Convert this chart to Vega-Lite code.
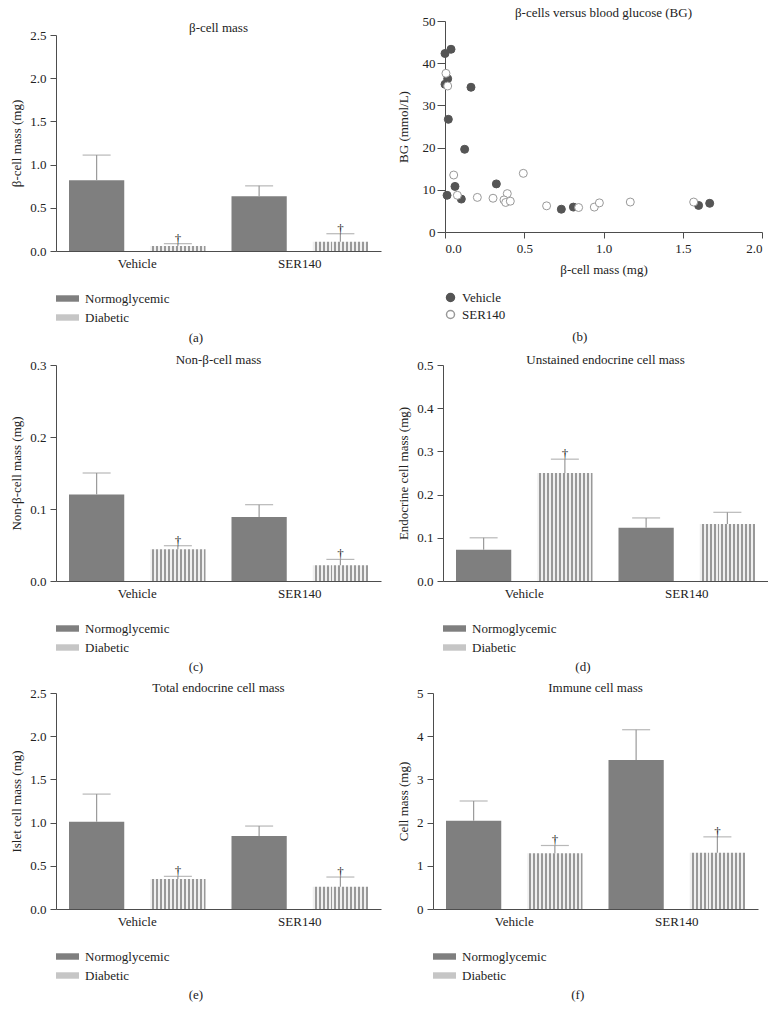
{
  "$schema": "https://vega.github.io/schema/vega-lite/v6.json",
  "padding": {"left": 10, "top": 7, "right": 0, "bottom": 0},
  "resolve": {"scale": {"fill": "independent", "stroke": "independent"}, "legend": {"fill": "independent", "stroke": "independent"}},
  "config": {
    "font": "Liberation Serif",
    "view": {"stroke": null},
    "axis": {"grid": false, "domainColor": "#4d4d4d", "tickColor": "#4d4d4d", "labelColor": "#222222", "titleColor": "#222222", "labelFont": "Liberation Serif", "titleFont": "Liberation Serif", "labelFontSize": 13, "titleFontSize": 13, "titleFontWeight": "normal", "tickSize": 6, "labelPadding": 4, "titlePadding": 6},
    "legend": {"labelFont": "Liberation Serif", "labelFontSize": 13, "labelColor": "#222222"},
    "title": {"font": "Liberation Serif", "fontSize": 13, "fontWeight": "normal", "color": "#222222"}
  },
  "datasets": {
    "a": [
      {"treatment": "Vehicle", "group": "Normoglycemic", "mean": 0.82, "upper": 1.11, "note": ""},
      {"treatment": "Vehicle", "group": "Diabetic", "mean": 0.058, "upper": 0.085, "note": "†"},
      {"treatment": "SER140", "group": "Normoglycemic", "mean": 0.635, "upper": 0.754, "note": ""},
      {"treatment": "SER140", "group": "Diabetic", "mean": 0.108, "upper": 0.2, "note": "†"}
    ],
    "c": [
      {"treatment": "Vehicle", "group": "Normoglycemic", "mean": 0.12, "upper": 0.15, "note": ""},
      {"treatment": "Vehicle", "group": "Diabetic", "mean": 0.044, "upper": 0.049, "note": "†"},
      {"treatment": "SER140", "group": "Normoglycemic", "mean": 0.089, "upper": 0.106, "note": ""},
      {"treatment": "SER140", "group": "Diabetic", "mean": 0.022, "upper": 0.03, "note": "†"}
    ],
    "d": [
      {"treatment": "Vehicle", "group": "Normoglycemic", "mean": 0.0725, "upper": 0.1, "note": ""},
      {"treatment": "Vehicle", "group": "Diabetic", "mean": 0.25, "upper": 0.282, "note": "†"},
      {"treatment": "SER140", "group": "Normoglycemic", "mean": 0.123, "upper": 0.146, "note": ""},
      {"treatment": "SER140", "group": "Diabetic", "mean": 0.132, "upper": 0.159, "note": ""}
    ],
    "e": [
      {"treatment": "Vehicle", "group": "Normoglycemic", "mean": 1.01, "upper": 1.33, "note": ""},
      {"treatment": "Vehicle", "group": "Diabetic", "mean": 0.347, "upper": 0.378, "note": "†"},
      {"treatment": "SER140", "group": "Normoglycemic", "mean": 0.845, "upper": 0.96, "note": ""},
      {"treatment": "SER140", "group": "Diabetic", "mean": 0.258, "upper": 0.37, "note": "†"}
    ],
    "f": [
      {"treatment": "Vehicle", "group": "Normoglycemic", "mean": 2.04, "upper": 2.5, "note": ""},
      {"treatment": "Vehicle", "group": "Diabetic", "mean": 1.29, "upper": 1.47, "note": "†"},
      {"treatment": "SER140", "group": "Normoglycemic", "mean": 3.45, "upper": 4.15, "note": ""},
      {"treatment": "SER140", "group": "Diabetic", "mean": 1.3, "upper": 1.67, "note": "†"}
    ],
    "b": [
      {"treatment": "Vehicle", "mass": 0.0, "bg": 42.3},
      {"treatment": "Vehicle", "mass": 0.038, "bg": 43.3},
      {"treatment": "Vehicle", "mass": 0.017, "bg": 36.3},
      {"treatment": "Vehicle", "mass": 0.0, "bg": 35.0},
      {"treatment": "Vehicle", "mass": 0.164, "bg": 34.3},
      {"treatment": "Vehicle", "mass": 0.021, "bg": 26.7},
      {"treatment": "Vehicle", "mass": 0.124, "bg": 19.6},
      {"treatment": "Vehicle", "mass": 0.324, "bg": 11.4},
      {"treatment": "Vehicle", "mass": 0.063, "bg": 10.8},
      {"treatment": "Vehicle", "mass": 0.013, "bg": 8.7},
      {"treatment": "Vehicle", "mass": 0.103, "bg": 7.8},
      {"treatment": "Vehicle", "mass": 0.734, "bg": 5.4},
      {"treatment": "Vehicle", "mass": 0.81, "bg": 5.9},
      {"treatment": "Vehicle", "mass": 1.6, "bg": 6.3},
      {"treatment": "Vehicle", "mass": 1.67, "bg": 6.8},
      {"treatment": "SER140", "mass": 0.006, "bg": 37.6},
      {"treatment": "SER140", "mass": 0.017, "bg": 34.6},
      {"treatment": "SER140", "mass": 0.055, "bg": 13.5},
      {"treatment": "SER140", "mass": 0.078, "bg": 8.7},
      {"treatment": "SER140", "mass": 0.204, "bg": 8.2},
      {"treatment": "SER140", "mass": 0.303, "bg": 8.0},
      {"treatment": "SER140", "mass": 0.393, "bg": 9.1},
      {"treatment": "SER140", "mass": 0.372, "bg": 7.6},
      {"treatment": "SER140", "mass": 0.383, "bg": 7.0},
      {"treatment": "SER140", "mass": 0.412, "bg": 7.3},
      {"treatment": "SER140", "mass": 0.494, "bg": 13.9},
      {"treatment": "SER140", "mass": 0.641, "bg": 6.2},
      {"treatment": "SER140", "mass": 0.843, "bg": 5.8},
      {"treatment": "SER140", "mass": 0.942, "bg": 5.9},
      {"treatment": "SER140", "mass": 0.974, "bg": 6.9},
      {"treatment": "SER140", "mass": 1.169, "bg": 7.1},
      {"treatment": "SER140", "mass": 1.569, "bg": 7.1}
    ]
  },
  "vconcat": [
    {
      "resolve": {"scale": {"fill": "independent", "stroke": "independent"}, "legend": {"fill": "independent", "stroke": "independent"}},
      "hconcat": [
        {
          "resolve": {"scale": {"fill": "independent", "stroke": "independent"}, "legend": {"fill": "independent", "stroke": "independent"}},
          "vconcat": [
            {"width": 10, "height": 1, "data": {"values": []}, "mark": "rect", "encoding": {}},
            {
              "width": 325, "height": 216,
              "data": {"name": "a"},
              "title": {"text": "(a)", "orient": "bottom", "anchor": "middle", "frame": "bounds", "offset": 7},
              "layer": [
                {"mark": {"type": "bar"},
                 "encoding": {
                   "x": {"field": "treatment", "type": "nominal", "sort": ["Vehicle", "SER140"], "scale": {"paddingInner": 0, "paddingOuter": 0}, "title": null, "axis": {"labelAngle": 0, "ticks": false, "labelPadding": 6}},
                   "xOffset": {"field": "group", "type": "nominal", "sort": ["Normoglycemic", "Diabetic"], "scale": {"paddingInner": 0.32, "paddingOuter": 0.16}},
                   "y": {"field": "mean", "type": "quantitative", "scale": {"domain": [0, 2.5], "nice": false}, "title": "β-cell mass (mg)", "axis": {"values": [0, 0.5, 1, 1.5, 2, 2.5], "format": ".1f"}},
                   "fill": {"field": "group", "type": "nominal", "sort": ["Normoglycemic", "Diabetic"], "scale": {"domain": ["Normoglycemic", "Diabetic"], "range": ["#7f7f7f", "#c6c6c6"]},
                     "condition": {"test": "datum.group === 'Diabetic'", "value": {"gradient": "linear", "x1": 0, "y1": 0, "x2": 1, "y2": 0, "stops": [
      {"offset": 0, "color": "#f0f0f0"}, {"offset": 0.0357, "color": "#f0f0f0"}, {"offset": 0.0357, "color": "#999999"}, {"offset": 0.0714, "color": "#999999"},
      {"offset": 0.0714, "color": "#f0f0f0"}, {"offset": 0.1071, "color": "#f0f0f0"}, {"offset": 0.1071, "color": "#999999"}, {"offset": 0.1429, "color": "#999999"},
      {"offset": 0.1429, "color": "#f0f0f0"}, {"offset": 0.1786, "color": "#f0f0f0"}, {"offset": 0.1786, "color": "#999999"}, {"offset": 0.2143, "color": "#999999"},
      {"offset": 0.2143, "color": "#f0f0f0"}, {"offset": 0.25, "color": "#f0f0f0"}, {"offset": 0.25, "color": "#999999"}, {"offset": 0.2857, "color": "#999999"},
      {"offset": 0.2857, "color": "#f0f0f0"}, {"offset": 0.3214, "color": "#f0f0f0"}, {"offset": 0.3214, "color": "#999999"}, {"offset": 0.3571, "color": "#999999"},
      {"offset": 0.3571, "color": "#f0f0f0"}, {"offset": 0.3929, "color": "#f0f0f0"}, {"offset": 0.3929, "color": "#999999"}, {"offset": 0.4286, "color": "#999999"},
      {"offset": 0.4286, "color": "#f0f0f0"}, {"offset": 0.4643, "color": "#f0f0f0"}, {"offset": 0.4643, "color": "#999999"}, {"offset": 0.5, "color": "#999999"},
      {"offset": 0.5, "color": "#f0f0f0"}, {"offset": 0.5357, "color": "#f0f0f0"}, {"offset": 0.5357, "color": "#999999"}, {"offset": 0.5714, "color": "#999999"},
      {"offset": 0.5714, "color": "#f0f0f0"}, {"offset": 0.6071, "color": "#f0f0f0"}, {"offset": 0.6071, "color": "#999999"}, {"offset": 0.6429, "color": "#999999"},
      {"offset": 0.6429, "color": "#f0f0f0"}, {"offset": 0.6786, "color": "#f0f0f0"}, {"offset": 0.6786, "color": "#999999"}, {"offset": 0.7143, "color": "#999999"},
      {"offset": 0.7143, "color": "#f0f0f0"}, {"offset": 0.75, "color": "#f0f0f0"}, {"offset": 0.75, "color": "#999999"}, {"offset": 0.7857, "color": "#999999"},
      {"offset": 0.7857, "color": "#f0f0f0"}, {"offset": 0.8214, "color": "#f0f0f0"}, {"offset": 0.8214, "color": "#999999"}, {"offset": 0.8571, "color": "#999999"},
      {"offset": 0.8571, "color": "#f0f0f0"}, {"offset": 0.8929, "color": "#f0f0f0"}, {"offset": 0.8929, "color": "#999999"}, {"offset": 0.9286, "color": "#999999"},
      {"offset": 0.9286, "color": "#f0f0f0"}, {"offset": 0.9643, "color": "#f0f0f0"}, {"offset": 0.9643, "color": "#999999"}, {"offset": 1, "color": "#999999"}]}},
                     "legend": {"title": null, "orient": "none", "legendX": 0, "legendY": 252, "direction": "vertical", "symbolType": "M-1,-0.28H1V0.28H-1Z", "symbolSize": 529, "symbolStrokeWidth": 0, "symbolOpacity": 1, "labelOffset": 6, "rowPadding": -5}}
                 }},
                {"mark": {"type": "rule", "color": "#9a9a9a", "strokeWidth": 1.2},
                 "encoding": {
                   "x": {"field": "treatment", "type": "nominal", "sort": ["Vehicle", "SER140"], "title": null},
                   "xOffset": {"field": "group", "type": "nominal", "sort": ["Normoglycemic", "Diabetic"]},
                   "y": {"field": "mean", "type": "quantitative", "title": "β-cell mass (mg)"},
                   "y2": {"field": "upper"}
                 }},
                {"mark": {"type": "tick", "color": "#9a9a9a", "thickness": 1.2, "size": 28},
                 "encoding": {
                   "x": {"field": "treatment", "type": "nominal", "sort": ["Vehicle", "SER140"], "title": null},
                   "xOffset": {"field": "group", "type": "nominal", "sort": ["Normoglycemic", "Diabetic"]},
                   "y": {"field": "upper", "type": "quantitative", "title": "β-cell mass (mg)"}
                 }},
                {"mark": {"type": "text", "baseline": "bottom", "dy": 2, "fontSize": 13, "color": "#222222"},
                 "encoding": {
                   "x": {"field": "treatment", "type": "nominal", "sort": ["Vehicle", "SER140"], "title": null},
                   "xOffset": {"field": "group", "type": "nominal", "sort": ["Normoglycemic", "Diabetic"]},
                   "y": {"field": "upper", "type": "quantitative", "title": "β-cell mass (mg)"},
                   "text": {"field": "note"}
                 }},
                {"data": {"values": [{"label": "β-cell mass"}]},
                 "mark": {"type": "text", "baseline": "bottom", "fontSize": 13, "color": "#222222"},
                 "encoding": {
                   "x": {"datum": "Vehicle", "type": "nominal", "bandPosition": 1, "title": null},
                   "y": {"datum": 2.5, "type": "quantitative", "title": "β-cell mass (mg)"},
                   "text": {"field": "label"}
                 }}
              ]
            }
          ],
          "spacing": 0
        },
        {
          "width": 317, "height": 211,
          "data": {"name": "b"},
          "title": {"text": "(b)", "orient": "bottom", "anchor": "middle", "frame": "bounds", "offset": 9},
          "layer": [
            {"mark": {"type": "point", "shape": "circle", "size": 64, "strokeWidth": 1, "opacity": 1, "filled": false},
             "encoding": {
               "x": {"field": "mass", "type": "quantitative", "scale": {"domain": [0, 2], "nice": false}, "title": "β-cell mass (mg)", "axis": {"values": [0, 0.5, 1, 1.5, 2], "format": ".1f", "titlePadding": 8}},
               "y": {"field": "bg", "type": "quantitative", "scale": {"domain": [0, 50], "nice": false}, "title": "BG (mmol/L)", "axis": {"values": [0, 10, 20, 30, 40, 50], "tickSize": 8, "labelPadding": 2, "titlePadding": 12}},
               "fill": {"field": "treatment", "type": "nominal", "scale": {"domain": ["Vehicle", "SER140"], "range": ["#555555", "#ffffff"]}, "legend": {"title": null, "orient": "none", "legendX": -1, "legendY": 270, "direction": "vertical", "symbolType": "circle", "symbolSize": 64, "labelOffset": 5, "rowPadding": 2}},
               "stroke": {"field": "treatment", "type": "nominal", "scale": {"domain": ["Vehicle", "SER140"], "range": ["#555555", "#999999"]}, "legend": {"title": null, "orient": "none", "legendX": -1, "legendY": 270, "direction": "vertical", "symbolType": "circle", "symbolSize": 64, "labelOffset": 5, "rowPadding": 2}}
             }},
            {"data": {"values": [{"label": "β-cells versus blood glucose (BG)"}]},
             "mark": {"type": "text", "baseline": "bottom", "dy": -1, "fontSize": 13, "color": "#222222"},
             "encoding": {
               "x": {"datum": 1, "type": "quantitative", "title": "β-cell mass (mg)"},
               "y": {"datum": 50, "type": "quantitative", "title": "BG (mmol/L)"},
               "text": {"field": "label"}
             }}
          ]
        }
      ],
      "spacing": 16
    },
    {
      "resolve": {"scale": {"fill": "independent", "stroke": "independent"}, "legend": {"fill": "independent", "stroke": "independent"}},
      "vconcat": [
        {
          "resolve": {"scale": {"fill": "independent", "stroke": "independent"}, "legend": {"fill": "independent", "stroke": "independent"}},
          "hconcat": [
            {
              "width": 325, "height": 216,
              "data": {"name": "c"},
              "title": {"text": "(c)", "orient": "bottom", "anchor": "middle", "frame": "bounds", "offset": 6},
              "layer": [
                {"mark": {"type": "bar"},
                 "encoding": {
                   "x": {"field": "treatment", "type": "nominal", "sort": ["Vehicle", "SER140"], "scale": {"paddingInner": 0, "paddingOuter": 0}, "title": null, "axis": {"labelAngle": 0, "ticks": false, "labelPadding": 6}},
                   "xOffset": {"field": "group", "type": "nominal", "sort": ["Normoglycemic", "Diabetic"], "scale": {"paddingInner": 0.32, "paddingOuter": 0.16}},
                   "y": {"field": "mean", "type": "quantitative", "scale": {"domain": [0, 0.3], "nice": false}, "title": "Non-β-cell mass (mg)", "axis": {"values": [0, 0.1, 0.2, 0.3], "format": ".1f"}},
                   "fill": {"field": "group", "type": "nominal", "sort": ["Normoglycemic", "Diabetic"], "scale": {"domain": ["Normoglycemic", "Diabetic"], "range": ["#7f7f7f", "#c6c6c6"]},
                     "condition": {"test": "datum.group === 'Diabetic'", "value": {"gradient": "linear", "x1": 0, "y1": 0, "x2": 1, "y2": 0, "stops": [
      {"offset": 0, "color": "#f0f0f0"}, {"offset": 0.0357, "color": "#f0f0f0"}, {"offset": 0.0357, "color": "#999999"}, {"offset": 0.0714, "color": "#999999"},
      {"offset": 0.0714, "color": "#f0f0f0"}, {"offset": 0.1071, "color": "#f0f0f0"}, {"offset": 0.1071, "color": "#999999"}, {"offset": 0.1429, "color": "#999999"},
      {"offset": 0.1429, "color": "#f0f0f0"}, {"offset": 0.1786, "color": "#f0f0f0"}, {"offset": 0.1786, "color": "#999999"}, {"offset": 0.2143, "color": "#999999"},
      {"offset": 0.2143, "color": "#f0f0f0"}, {"offset": 0.25, "color": "#f0f0f0"}, {"offset": 0.25, "color": "#999999"}, {"offset": 0.2857, "color": "#999999"},
      {"offset": 0.2857, "color": "#f0f0f0"}, {"offset": 0.3214, "color": "#f0f0f0"}, {"offset": 0.3214, "color": "#999999"}, {"offset": 0.3571, "color": "#999999"},
      {"offset": 0.3571, "color": "#f0f0f0"}, {"offset": 0.3929, "color": "#f0f0f0"}, {"offset": 0.3929, "color": "#999999"}, {"offset": 0.4286, "color": "#999999"},
      {"offset": 0.4286, "color": "#f0f0f0"}, {"offset": 0.4643, "color": "#f0f0f0"}, {"offset": 0.4643, "color": "#999999"}, {"offset": 0.5, "color": "#999999"},
      {"offset": 0.5, "color": "#f0f0f0"}, {"offset": 0.5357, "color": "#f0f0f0"}, {"offset": 0.5357, "color": "#999999"}, {"offset": 0.5714, "color": "#999999"},
      {"offset": 0.5714, "color": "#f0f0f0"}, {"offset": 0.6071, "color": "#f0f0f0"}, {"offset": 0.6071, "color": "#999999"}, {"offset": 0.6429, "color": "#999999"},
      {"offset": 0.6429, "color": "#f0f0f0"}, {"offset": 0.6786, "color": "#f0f0f0"}, {"offset": 0.6786, "color": "#999999"}, {"offset": 0.7143, "color": "#999999"},
      {"offset": 0.7143, "color": "#f0f0f0"}, {"offset": 0.75, "color": "#f0f0f0"}, {"offset": 0.75, "color": "#999999"}, {"offset": 0.7857, "color": "#999999"},
      {"offset": 0.7857, "color": "#f0f0f0"}, {"offset": 0.8214, "color": "#f0f0f0"}, {"offset": 0.8214, "color": "#999999"}, {"offset": 0.8571, "color": "#999999"},
      {"offset": 0.8571, "color": "#f0f0f0"}, {"offset": 0.8929, "color": "#f0f0f0"}, {"offset": 0.8929, "color": "#999999"}, {"offset": 0.9286, "color": "#999999"},
      {"offset": 0.9286, "color": "#f0f0f0"}, {"offset": 0.9643, "color": "#f0f0f0"}, {"offset": 0.9643, "color": "#999999"}, {"offset": 1, "color": "#999999"}]}},
                     "legend": {"title": null, "orient": "none", "legendX": 0, "legendY": 252, "direction": "vertical", "symbolType": "M-1,-0.28H1V0.28H-1Z", "symbolSize": 529, "symbolStrokeWidth": 0, "symbolOpacity": 1, "labelOffset": 6, "rowPadding": -5}}
                 }},
                {"mark": {"type": "rule", "color": "#9a9a9a", "strokeWidth": 1.2},
                 "encoding": {
                   "x": {"field": "treatment", "type": "nominal", "sort": ["Vehicle", "SER140"], "title": null},
                   "xOffset": {"field": "group", "type": "nominal", "sort": ["Normoglycemic", "Diabetic"]},
                   "y": {"field": "mean", "type": "quantitative", "title": "Non-β-cell mass (mg)"},
                   "y2": {"field": "upper"}
                 }},
                {"mark": {"type": "tick", "color": "#9a9a9a", "thickness": 1.2, "size": 28},
                 "encoding": {
                   "x": {"field": "treatment", "type": "nominal", "sort": ["Vehicle", "SER140"], "title": null},
                   "xOffset": {"field": "group", "type": "nominal", "sort": ["Normoglycemic", "Diabetic"]},
                   "y": {"field": "upper", "type": "quantitative", "title": "Non-β-cell mass (mg)"}
                 }},
                {"mark": {"type": "text", "baseline": "bottom", "dy": 2, "fontSize": 13, "color": "#222222"},
                 "encoding": {
                   "x": {"field": "treatment", "type": "nominal", "sort": ["Vehicle", "SER140"], "title": null},
                   "xOffset": {"field": "group", "type": "nominal", "sort": ["Normoglycemic", "Diabetic"]},
                   "y": {"field": "upper", "type": "quantitative", "title": "Non-β-cell mass (mg)"},
                   "text": {"field": "note"}
                 }},
                {"data": {"values": [{"label": "Non-β-cell mass"}]},
                 "mark": {"type": "text", "baseline": "bottom", "dy": 2, "fontSize": 13, "color": "#222222"},
                 "encoding": {
                   "x": {"datum": "Vehicle", "type": "nominal", "bandPosition": 1, "title": null},
                   "y": {"datum": 0.3, "type": "quantitative", "title": "Non-β-cell mass (mg)"},
                   "text": {"field": "label"}
                 }}
              ]
            },
            {
              "width": 325, "height": 216,
              "data": {"name": "d"},
              "title": {"text": "(d)", "orient": "bottom", "anchor": "middle", "frame": "bounds", "offset": 6},
              "layer": [
                {"mark": {"type": "bar"},
                 "encoding": {
                   "x": {"field": "treatment", "type": "nominal", "sort": ["Vehicle", "SER140"], "scale": {"paddingInner": 0, "paddingOuter": 0}, "title": null, "axis": {"labelAngle": 0, "ticks": false, "labelPadding": 6}},
                   "xOffset": {"field": "group", "type": "nominal", "sort": ["Normoglycemic", "Diabetic"], "scale": {"paddingInner": 0.32, "paddingOuter": 0.16}},
                   "y": {"field": "mean", "type": "quantitative", "scale": {"domain": [0, 0.5], "nice": false}, "title": "Endocrine cell mass (mg)", "axis": {"values": [0, 0.1, 0.2, 0.3, 0.4, 0.5], "format": ".1f"}},
                   "fill": {"field": "group", "type": "nominal", "sort": ["Normoglycemic", "Diabetic"], "scale": {"domain": ["Normoglycemic", "Diabetic"], "range": ["#7f7f7f", "#c6c6c6"]},
                     "condition": {"test": "datum.group === 'Diabetic'", "value": {"gradient": "linear", "x1": 0, "y1": 0, "x2": 1, "y2": 0, "stops": [
      {"offset": 0, "color": "#f0f0f0"}, {"offset": 0.0357, "color": "#f0f0f0"}, {"offset": 0.0357, "color": "#999999"}, {"offset": 0.0714, "color": "#999999"},
      {"offset": 0.0714, "color": "#f0f0f0"}, {"offset": 0.1071, "color": "#f0f0f0"}, {"offset": 0.1071, "color": "#999999"}, {"offset": 0.1429, "color": "#999999"},
      {"offset": 0.1429, "color": "#f0f0f0"}, {"offset": 0.1786, "color": "#f0f0f0"}, {"offset": 0.1786, "color": "#999999"}, {"offset": 0.2143, "color": "#999999"},
      {"offset": 0.2143, "color": "#f0f0f0"}, {"offset": 0.25, "color": "#f0f0f0"}, {"offset": 0.25, "color": "#999999"}, {"offset": 0.2857, "color": "#999999"},
      {"offset": 0.2857, "color": "#f0f0f0"}, {"offset": 0.3214, "color": "#f0f0f0"}, {"offset": 0.3214, "color": "#999999"}, {"offset": 0.3571, "color": "#999999"},
      {"offset": 0.3571, "color": "#f0f0f0"}, {"offset": 0.3929, "color": "#f0f0f0"}, {"offset": 0.3929, "color": "#999999"}, {"offset": 0.4286, "color": "#999999"},
      {"offset": 0.4286, "color": "#f0f0f0"}, {"offset": 0.4643, "color": "#f0f0f0"}, {"offset": 0.4643, "color": "#999999"}, {"offset": 0.5, "color": "#999999"},
      {"offset": 0.5, "color": "#f0f0f0"}, {"offset": 0.5357, "color": "#f0f0f0"}, {"offset": 0.5357, "color": "#999999"}, {"offset": 0.5714, "color": "#999999"},
      {"offset": 0.5714, "color": "#f0f0f0"}, {"offset": 0.6071, "color": "#f0f0f0"}, {"offset": 0.6071, "color": "#999999"}, {"offset": 0.6429, "color": "#999999"},
      {"offset": 0.6429, "color": "#f0f0f0"}, {"offset": 0.6786, "color": "#f0f0f0"}, {"offset": 0.6786, "color": "#999999"}, {"offset": 0.7143, "color": "#999999"},
      {"offset": 0.7143, "color": "#f0f0f0"}, {"offset": 0.75, "color": "#f0f0f0"}, {"offset": 0.75, "color": "#999999"}, {"offset": 0.7857, "color": "#999999"},
      {"offset": 0.7857, "color": "#f0f0f0"}, {"offset": 0.8214, "color": "#f0f0f0"}, {"offset": 0.8214, "color": "#999999"}, {"offset": 0.8571, "color": "#999999"},
      {"offset": 0.8571, "color": "#f0f0f0"}, {"offset": 0.8929, "color": "#f0f0f0"}, {"offset": 0.8929, "color": "#999999"}, {"offset": 0.9286, "color": "#999999"},
      {"offset": 0.9286, "color": "#f0f0f0"}, {"offset": 0.9643, "color": "#f0f0f0"}, {"offset": 0.9643, "color": "#999999"}, {"offset": 1, "color": "#999999"}]}},
                     "legend": {"title": null, "orient": "none", "legendX": 0, "legendY": 252, "direction": "vertical", "symbolType": "M-1,-0.28H1V0.28H-1Z", "symbolSize": 529, "symbolStrokeWidth": 0, "symbolOpacity": 1, "labelOffset": 6, "rowPadding": -5}}
                 }},
                {"mark": {"type": "rule", "color": "#9a9a9a", "strokeWidth": 1.2},
                 "encoding": {
                   "x": {"field": "treatment", "type": "nominal", "sort": ["Vehicle", "SER140"], "title": null},
                   "xOffset": {"field": "group", "type": "nominal", "sort": ["Normoglycemic", "Diabetic"]},
                   "y": {"field": "mean", "type": "quantitative", "title": "Endocrine cell mass (mg)"},
                   "y2": {"field": "upper"}
                 }},
                {"mark": {"type": "tick", "color": "#9a9a9a", "thickness": 1.2, "size": 28},
                 "encoding": {
                   "x": {"field": "treatment", "type": "nominal", "sort": ["Vehicle", "SER140"], "title": null},
                   "xOffset": {"field": "group", "type": "nominal", "sort": ["Normoglycemic", "Diabetic"]},
                   "y": {"field": "upper", "type": "quantitative", "title": "Endocrine cell mass (mg)"}
                 }},
                {"mark": {"type": "text", "baseline": "bottom", "dy": 2, "fontSize": 13, "color": "#222222"},
                 "encoding": {
                   "x": {"field": "treatment", "type": "nominal", "sort": ["Vehicle", "SER140"], "title": null},
                   "xOffset": {"field": "group", "type": "nominal", "sort": ["Normoglycemic", "Diabetic"]},
                   "y": {"field": "upper", "type": "quantitative", "title": "Endocrine cell mass (mg)"},
                   "text": {"field": "note"}
                 }},
                {"data": {"values": [{"label": "Unstained endocrine cell mass"}]},
                 "mark": {"type": "text", "baseline": "bottom", "dy": 2, "fontSize": 13, "color": "#222222"},
                 "encoding": {
                   "x": {"datum": "Vehicle", "type": "nominal", "bandPosition": 1, "title": null},
                   "y": {"datum": 0.5, "type": "quantitative", "title": "Endocrine cell mass (mg)"},
                   "text": {"field": "label"}
                 }}
              ]
            }
          ],
          "spacing": 16
        },
        {
          "resolve": {"scale": {"fill": "independent", "stroke": "independent"}, "legend": {"fill": "independent", "stroke": "independent"}},
          "hconcat": [
            {
              "width": 325, "height": 216,
              "data": {"name": "e"},
              "title": {"text": "(e)", "orient": "bottom", "anchor": "middle", "frame": "bounds", "offset": 6},
              "layer": [
                {"mark": {"type": "bar"},
                 "encoding": {
                   "x": {"field": "treatment", "type": "nominal", "sort": ["Vehicle", "SER140"], "scale": {"paddingInner": 0, "paddingOuter": 0}, "title": null, "axis": {"labelAngle": 0, "ticks": false, "labelPadding": 6}},
                   "xOffset": {"field": "group", "type": "nominal", "sort": ["Normoglycemic", "Diabetic"], "scale": {"paddingInner": 0.32, "paddingOuter": 0.16}},
                   "y": {"field": "mean", "type": "quantitative", "scale": {"domain": [0, 2.5], "nice": false}, "title": "Islet cell mass (mg)", "axis": {"values": [0, 0.5, 1, 1.5, 2, 2.5], "format": ".1f"}},
                   "fill": {"field": "group", "type": "nominal", "sort": ["Normoglycemic", "Diabetic"], "scale": {"domain": ["Normoglycemic", "Diabetic"], "range": ["#7f7f7f", "#c6c6c6"]},
                     "condition": {"test": "datum.group === 'Diabetic'", "value": {"gradient": "linear", "x1": 0, "y1": 0, "x2": 1, "y2": 0, "stops": [
      {"offset": 0, "color": "#f0f0f0"}, {"offset": 0.0357, "color": "#f0f0f0"}, {"offset": 0.0357, "color": "#999999"}, {"offset": 0.0714, "color": "#999999"},
      {"offset": 0.0714, "color": "#f0f0f0"}, {"offset": 0.1071, "color": "#f0f0f0"}, {"offset": 0.1071, "color": "#999999"}, {"offset": 0.1429, "color": "#999999"},
      {"offset": 0.1429, "color": "#f0f0f0"}, {"offset": 0.1786, "color": "#f0f0f0"}, {"offset": 0.1786, "color": "#999999"}, {"offset": 0.2143, "color": "#999999"},
      {"offset": 0.2143, "color": "#f0f0f0"}, {"offset": 0.25, "color": "#f0f0f0"}, {"offset": 0.25, "color": "#999999"}, {"offset": 0.2857, "color": "#999999"},
      {"offset": 0.2857, "color": "#f0f0f0"}, {"offset": 0.3214, "color": "#f0f0f0"}, {"offset": 0.3214, "color": "#999999"}, {"offset": 0.3571, "color": "#999999"},
      {"offset": 0.3571, "color": "#f0f0f0"}, {"offset": 0.3929, "color": "#f0f0f0"}, {"offset": 0.3929, "color": "#999999"}, {"offset": 0.4286, "color": "#999999"},
      {"offset": 0.4286, "color": "#f0f0f0"}, {"offset": 0.4643, "color": "#f0f0f0"}, {"offset": 0.4643, "color": "#999999"}, {"offset": 0.5, "color": "#999999"},
      {"offset": 0.5, "color": "#f0f0f0"}, {"offset": 0.5357, "color": "#f0f0f0"}, {"offset": 0.5357, "color": "#999999"}, {"offset": 0.5714, "color": "#999999"},
      {"offset": 0.5714, "color": "#f0f0f0"}, {"offset": 0.6071, "color": "#f0f0f0"}, {"offset": 0.6071, "color": "#999999"}, {"offset": 0.6429, "color": "#999999"},
      {"offset": 0.6429, "color": "#f0f0f0"}, {"offset": 0.6786, "color": "#f0f0f0"}, {"offset": 0.6786, "color": "#999999"}, {"offset": 0.7143, "color": "#999999"},
      {"offset": 0.7143, "color": "#f0f0f0"}, {"offset": 0.75, "color": "#f0f0f0"}, {"offset": 0.75, "color": "#999999"}, {"offset": 0.7857, "color": "#999999"},
      {"offset": 0.7857, "color": "#f0f0f0"}, {"offset": 0.8214, "color": "#f0f0f0"}, {"offset": 0.8214, "color": "#999999"}, {"offset": 0.8571, "color": "#999999"},
      {"offset": 0.8571, "color": "#f0f0f0"}, {"offset": 0.8929, "color": "#f0f0f0"}, {"offset": 0.8929, "color": "#999999"}, {"offset": 0.9286, "color": "#999999"},
      {"offset": 0.9286, "color": "#f0f0f0"}, {"offset": 0.9643, "color": "#f0f0f0"}, {"offset": 0.9643, "color": "#999999"}, {"offset": 1, "color": "#999999"}]}},
                     "legend": {"title": null, "orient": "none", "legendX": 0, "legendY": 252, "direction": "vertical", "symbolType": "M-1,-0.28H1V0.28H-1Z", "symbolSize": 529, "symbolStrokeWidth": 0, "symbolOpacity": 1, "labelOffset": 6, "rowPadding": -5}}
                 }},
                {"mark": {"type": "rule", "color": "#9a9a9a", "strokeWidth": 1.2},
                 "encoding": {
                   "x": {"field": "treatment", "type": "nominal", "sort": ["Vehicle", "SER140"], "title": null},
                   "xOffset": {"field": "group", "type": "nominal", "sort": ["Normoglycemic", "Diabetic"]},
                   "y": {"field": "mean", "type": "quantitative", "title": "Islet cell mass (mg)"},
                   "y2": {"field": "upper"}
                 }},
                {"mark": {"type": "tick", "color": "#9a9a9a", "thickness": 1.2, "size": 28},
                 "encoding": {
                   "x": {"field": "treatment", "type": "nominal", "sort": ["Vehicle", "SER140"], "title": null},
                   "xOffset": {"field": "group", "type": "nominal", "sort": ["Normoglycemic", "Diabetic"]},
                   "y": {"field": "upper", "type": "quantitative", "title": "Islet cell mass (mg)"}
                 }},
                {"mark": {"type": "text", "baseline": "bottom", "dy": 2, "fontSize": 13, "color": "#222222"},
                 "encoding": {
                   "x": {"field": "treatment", "type": "nominal", "sort": ["Vehicle", "SER140"], "title": null},
                   "xOffset": {"field": "group", "type": "nominal", "sort": ["Normoglycemic", "Diabetic"]},
                   "y": {"field": "upper", "type": "quantitative", "title": "Islet cell mass (mg)"},
                   "text": {"field": "note"}
                 }},
                {"data": {"values": [{"label": "Total endocrine cell mass"}]},
                 "mark": {"type": "text", "baseline": "bottom", "dy": 2, "fontSize": 13, "color": "#222222"},
                 "encoding": {
                   "x": {"datum": "Vehicle", "type": "nominal", "bandPosition": 1, "title": null},
                   "y": {"datum": 2.5, "type": "quantitative", "title": "Islet cell mass (mg)"},
                   "text": {"field": "label"}
                 }}
              ]
            },
            {
              "width": 325, "height": 216,
              "data": {"name": "f"},
              "title": {"text": "(f)", "orient": "bottom", "anchor": "middle", "frame": "bounds", "offset": 6},
              "layer": [
                {"mark": {"type": "bar"},
                 "encoding": {
                   "x": {"field": "treatment", "type": "nominal", "sort": ["Vehicle", "SER140"], "scale": {"paddingInner": 0, "paddingOuter": 0}, "title": null, "axis": {"labelAngle": 0, "ticks": false, "labelPadding": 6}},
                   "xOffset": {"field": "group", "type": "nominal", "sort": ["Normoglycemic", "Diabetic"], "scale": {"paddingInner": 0.32, "paddingOuter": 0.16}},
                   "y": {"field": "mean", "type": "quantitative", "scale": {"domain": [0, 5], "nice": false}, "title": "Cell mass (mg)", "axis": {"values": [0, 1, 2, 3, 4, 5], "format": "d"}},
                   "fill": {"field": "group", "type": "nominal", "sort": ["Normoglycemic", "Diabetic"], "scale": {"domain": ["Normoglycemic", "Diabetic"], "range": ["#7f7f7f", "#c6c6c6"]},
                     "condition": {"test": "datum.group === 'Diabetic'", "value": {"gradient": "linear", "x1": 0, "y1": 0, "x2": 1, "y2": 0, "stops": [
      {"offset": 0, "color": "#f0f0f0"}, {"offset": 0.0357, "color": "#f0f0f0"}, {"offset": 0.0357, "color": "#999999"}, {"offset": 0.0714, "color": "#999999"},
      {"offset": 0.0714, "color": "#f0f0f0"}, {"offset": 0.1071, "color": "#f0f0f0"}, {"offset": 0.1071, "color": "#999999"}, {"offset": 0.1429, "color": "#999999"},
      {"offset": 0.1429, "color": "#f0f0f0"}, {"offset": 0.1786, "color": "#f0f0f0"}, {"offset": 0.1786, "color": "#999999"}, {"offset": 0.2143, "color": "#999999"},
      {"offset": 0.2143, "color": "#f0f0f0"}, {"offset": 0.25, "color": "#f0f0f0"}, {"offset": 0.25, "color": "#999999"}, {"offset": 0.2857, "color": "#999999"},
      {"offset": 0.2857, "color": "#f0f0f0"}, {"offset": 0.3214, "color": "#f0f0f0"}, {"offset": 0.3214, "color": "#999999"}, {"offset": 0.3571, "color": "#999999"},
      {"offset": 0.3571, "color": "#f0f0f0"}, {"offset": 0.3929, "color": "#f0f0f0"}, {"offset": 0.3929, "color": "#999999"}, {"offset": 0.4286, "color": "#999999"},
      {"offset": 0.4286, "color": "#f0f0f0"}, {"offset": 0.4643, "color": "#f0f0f0"}, {"offset": 0.4643, "color": "#999999"}, {"offset": 0.5, "color": "#999999"},
      {"offset": 0.5, "color": "#f0f0f0"}, {"offset": 0.5357, "color": "#f0f0f0"}, {"offset": 0.5357, "color": "#999999"}, {"offset": 0.5714, "color": "#999999"},
      {"offset": 0.5714, "color": "#f0f0f0"}, {"offset": 0.6071, "color": "#f0f0f0"}, {"offset": 0.6071, "color": "#999999"}, {"offset": 0.6429, "color": "#999999"},
      {"offset": 0.6429, "color": "#f0f0f0"}, {"offset": 0.6786, "color": "#f0f0f0"}, {"offset": 0.6786, "color": "#999999"}, {"offset": 0.7143, "color": "#999999"},
      {"offset": 0.7143, "color": "#f0f0f0"}, {"offset": 0.75, "color": "#f0f0f0"}, {"offset": 0.75, "color": "#999999"}, {"offset": 0.7857, "color": "#999999"},
      {"offset": 0.7857, "color": "#f0f0f0"}, {"offset": 0.8214, "color": "#f0f0f0"}, {"offset": 0.8214, "color": "#999999"}, {"offset": 0.8571, "color": "#999999"},
      {"offset": 0.8571, "color": "#f0f0f0"}, {"offset": 0.8929, "color": "#f0f0f0"}, {"offset": 0.8929, "color": "#999999"}, {"offset": 0.9286, "color": "#999999"},
      {"offset": 0.9286, "color": "#f0f0f0"}, {"offset": 0.9643, "color": "#f0f0f0"}, {"offset": 0.9643, "color": "#999999"}, {"offset": 1, "color": "#999999"}]}},
                     "legend": {"title": null, "orient": "none", "legendX": 0, "legendY": 252, "direction": "vertical", "symbolType": "M-1,-0.28H1V0.28H-1Z", "symbolSize": 529, "symbolStrokeWidth": 0, "symbolOpacity": 1, "labelOffset": 6, "rowPadding": -5}}
                 }},
                {"mark": {"type": "rule", "color": "#9a9a9a", "strokeWidth": 1.2},
                 "encoding": {
                   "x": {"field": "treatment", "type": "nominal", "sort": ["Vehicle", "SER140"], "title": null},
                   "xOffset": {"field": "group", "type": "nominal", "sort": ["Normoglycemic", "Diabetic"]},
                   "y": {"field": "mean", "type": "quantitative", "title": "Cell mass (mg)"},
                   "y2": {"field": "upper"}
                 }},
                {"mark": {"type": "tick", "color": "#9a9a9a", "thickness": 1.2, "size": 28},
                 "encoding": {
                   "x": {"field": "treatment", "type": "nominal", "sort": ["Vehicle", "SER140"], "title": null},
                   "xOffset": {"field": "group", "type": "nominal", "sort": ["Normoglycemic", "Diabetic"]},
                   "y": {"field": "upper", "type": "quantitative", "title": "Cell mass (mg)"}
                 }},
                {"mark": {"type": "text", "baseline": "bottom", "dy": 2, "fontSize": 13, "color": "#222222"},
                 "encoding": {
                   "x": {"field": "treatment", "type": "nominal", "sort": ["Vehicle", "SER140"], "title": null},
                   "xOffset": {"field": "group", "type": "nominal", "sort": ["Normoglycemic", "Diabetic"]},
                   "y": {"field": "upper", "type": "quantitative", "title": "Cell mass (mg)"},
                   "text": {"field": "note"}
                 }},
                {"data": {"values": [{"label": "Immune cell mass"}]},
                 "mark": {"type": "text", "baseline": "bottom", "dy": 2, "fontSize": 13, "color": "#222222"},
                 "encoding": {
                   "x": {"datum": "Vehicle", "type": "nominal", "bandPosition": 1, "title": null},
                   "y": {"datum": 5, "type": "quantitative", "title": "Cell mass (mg)"},
                   "text": {"field": "label"}
                 }}
              ]
            }
          ],
          "spacing": 16
        }
      ],
      "spacing": 8
    }
  ],
  "spacing": 9
}
